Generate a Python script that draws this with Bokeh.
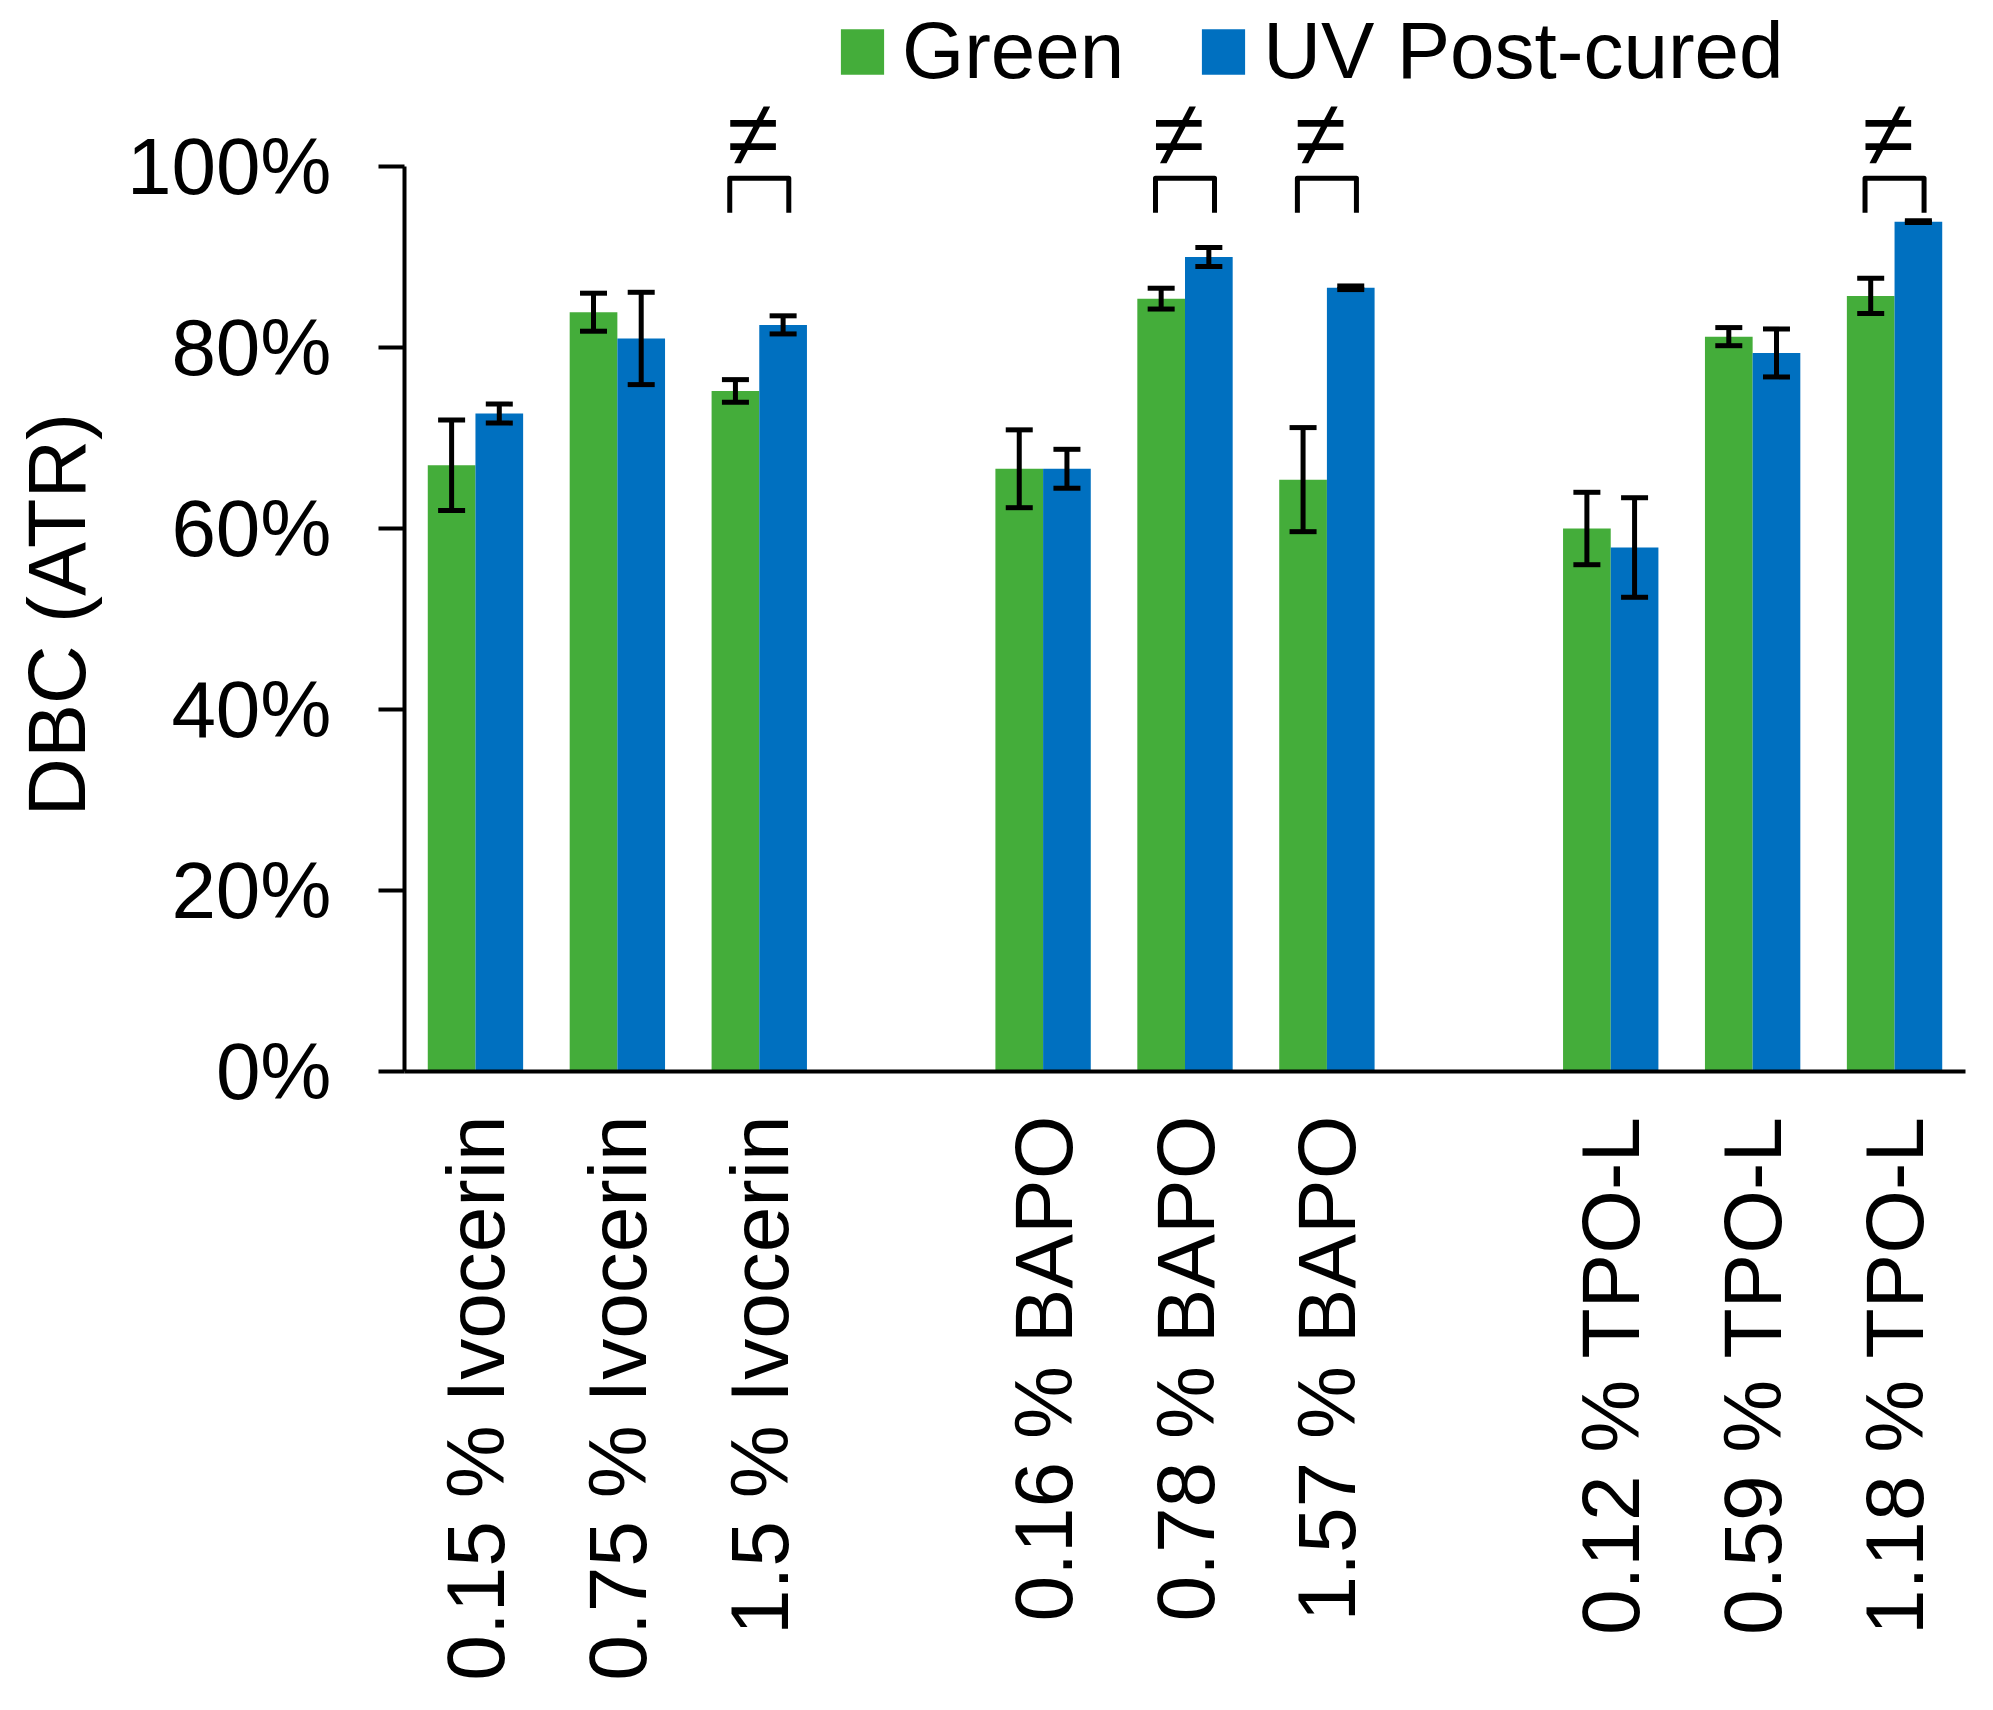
import math
from bokeh.plotting import figure
from bokeh.models import (ColumnDataSource, Range1d, FixedTicker, Whisker, TeeHead,
                          Legend, LegendItem)
from bokeh.core.properties import value
from bokeh.embed import file_html
from bokeh.resources import INLINE

# ---------------- data ----------------
groups = ["Ivocerin", "BAPO", "TPO-L"]
concentrations = [["0.15", "0.75", "1.5"], ["0.16", "0.78", "1.57"], ["0.12", "0.59", "1.18"]]
labels = [f"{c} % {g}" for g, cs in zip(groups, concentrations) for c in cs]

green_mean = [67.0, 83.9, 75.2, 66.6, 85.4, 65.4, 60.0, 81.2, 85.7]
green_err = [5.0, 2.1, 1.25, 4.3, 1.15, 5.75, 4.0, 1.0, 1.95]
uv_mean = [72.7, 81.0, 82.5, 66.6, 90.0, 86.6, 57.9, 79.4, 93.9]
uv_err = [1.05, 5.1, 1.0, 2.15, 1.05, 0.2, 5.5, 2.65, 0.1]
significant = [False, False, True, False, True, True, False, False, True]

y_ticks = [0, 20, 40, 60, 80, 100]
y_tick_labels = ["0%", "20%", "40%", "60%", "80%", "100%"]
y_title = "DBC (ATR)"

series_names = ["Green", "UV Post-cured"]
GREEN = "#44AD3A"
BLUE = "#0070C0"
FONT = "Liberation Sans"

# ---------------- layout helpers ----------------
slots = [gi * 4 + ci for gi, cs in enumerate(concentrations) for ci in range(len(cs))]
centers = [s + 0.5 for s in slots]
n_slots = slots[-1] + 1
bar_w = 0.336

src = ColumnDataSource(dict(
    xg=[c - bar_w / 2 for c in centers],
    xb=[c + bar_w / 2 for c in centers],
    g=green_mean, b=uv_mean,
    g_lo=[m - e for m, e in zip(green_mean, green_err)],
    g_hi=[m + e for m, e in zip(green_mean, green_err)],
    b_lo=[m - e for m, e in zip(uv_mean, uv_err)],
    b_hi=[m + e for m, e in zip(uv_mean, uv_err)],
))

W, H = 1993, 1710
frame_h = 1071
y_top = 100 * frame_h / 905.0

p = figure(width=W, height=H, x_range=Range1d(0, n_slots), y_range=Range1d(0, y_top),
           output_backend="svg", toolbar_location=None,
           min_border_left=404, min_border_right=28, min_border_top=0,
           min_border_bottom=H - frame_h)
p.outline_line_color = None
p.grid.visible = False
p.background_fill_color = "white"

rg = p.vbar(x="xg", top="g", width=bar_w, source=src, fill_color=GREEN, line_color=None)
rb = p.vbar(x="xb", top="b", width=bar_w, source=src, fill_color=BLUE, line_color=None)

for lo, hi, xcol in (("g_lo", "g_hi", "xg"), ("b_lo", "b_hi", "xb")):
    w = Whisker(source=src, base=xcol, lower=lo, upper=hi, dimension="height",
                line_color="black", line_width=5, level="annotation",
                upper_head=TeeHead(size=27, line_width=5, line_color="black"),
                lower_head=TeeHead(size=27, line_width=5, line_color="black"))
    p.add_layout(w)

# significance brackets
bracket_top, bracket_leg, half = 98.7, 94.9, 0.208
sig_centers = [c for c, s in zip(centers, significant) if s]
p.multi_line(xs=[[c - half, c - half, c + half, c + half] for c in sig_centers],
             ys=[[bracket_leg, bracket_top, bracket_top, bracket_leg] for _ in sig_centers],
             line_color="black", line_width=5, line_join="round")
p.text(x=[c - 0.044 for c in sig_centers], y=[103.6] * len(sig_centers),
       text=["≠"] * len(sig_centers), text_align="center", text_baseline="alphabetic",
       text_font=value(FONT), text_font_size="94px", text_color="black")

# y axis
ya = p.yaxis[0]
ya.bounds = (0, 100)
ya.ticker = FixedTicker(ticks=y_ticks)
ya.major_label_overrides = {t: l for t, l in zip(y_ticks, y_tick_labels)}
ya.major_tick_out = 26
ya.major_tick_in = 0
ya.minor_tick_out = 0
ya.minor_tick_in = 0
ya.axis_line_width = 4
ya.major_tick_line_width = 4
ya.axis_line_color = "black"
ya.major_tick_line_color = "black"
ya.major_label_text_font = FONT
ya.major_label_text_font_size = "80px"
ya.major_label_text_color = "black"
ya.major_label_standoff = 47
# the axis title is centred on the frame; trailing no-break spaces move it
# down so that it is centred on the 0-100 % span like the reference
ya.axis_label = y_title + "\u00a0" * 7
ya.axis_label_text_font = FONT
ya.axis_label_text_font_size = "81px"
ya.axis_label_text_font_style = "normal"
ya.axis_label_text_color = "black"
ya.axis_label_standoff = 22

# x axis
xa = p.xaxis[0]
xa.ticker = FixedTicker(ticks=centers)
xa.major_label_overrides = {c: l for c, l in zip(centers, labels)}
xa.major_label_orientation = math.pi / 2
xa.major_tick_out = 0
xa.major_tick_in = 0
xa.minor_tick_out = 0
xa.minor_tick_in = 0
xa.axis_line_width = 4
xa.axis_line_color = "black"
xa.major_label_text_font = FONT
xa.major_label_text_font_size = "82px"
xa.major_label_text_color = "black"
xa.major_label_standoff = 44

legend = Legend(items=[LegendItem(label=series_names[0], renderers=[rg]),
                       LegendItem(label=series_names[1], renderers=[rb])],
                orientation="horizontal", location=(431, 974),
                glyph_width=54, glyph_height=57, label_standoff=13, spacing=72,
                padding=0, margin=0, border_line_color=None, background_fill_alpha=0,
                label_text_font=FONT, label_text_font_size="80px", label_text_color="black")
p.add_layout(legend)

open("out.html", "w").write(file_html(p, INLINE))
